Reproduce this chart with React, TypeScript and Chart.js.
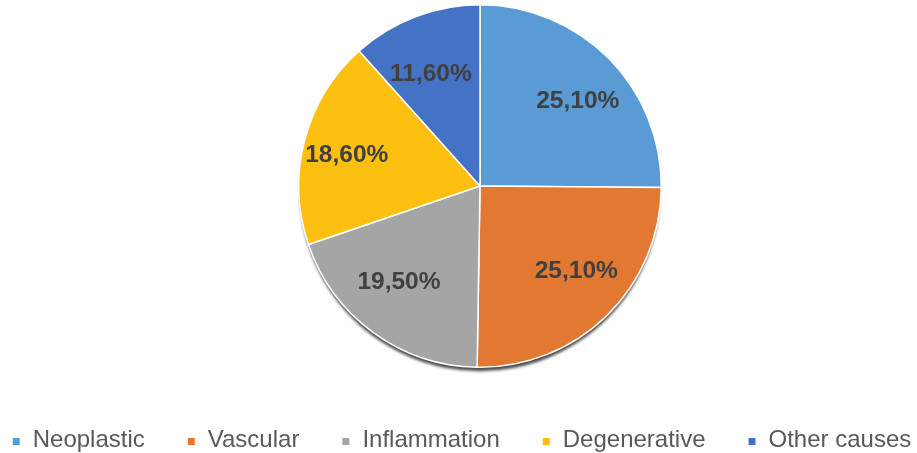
import React, { useEffect, useRef } from "react";
import { Chart, registerables } from "chart.js";

Chart.register(...registerables);

const categories = ["Neoplastic", "Vascular", "Inflammation", "Degenerative", "Other causes"];
const percentValues = [25.1, 25.1, 19.5, 18.6, 11.6];
const sliceColors = ["#5B9BD5", "#E27932", "#A5A5A5", "#FDC010", "#4472C4"];

const fmt = (v: number) => v.toFixed(2).replace(".", ",") + "%";

const shadowPlugin = {
  id: "pieShadow",
  beforeDatasetsDraw(chart: any) {
    const meta = chart.getDatasetMeta(0);
    const arc = meta.data[0];
    if (!arc) return;
    const { x, y, outerRadius } = arc.getProps(["x", "y", "outerRadius"], true);
    const ctx = chart.ctx;
    ctx.save();
    ctx.shadowColor = "rgba(0,0,0,0.7)";
    ctx.shadowBlur = 3;
    ctx.shadowOffsetX = 0;
    ctx.shadowOffsetY = 5;
    ctx.beginPath();
    ctx.arc(x, y, outerRadius - 1, 0, Math.PI * 2);
    ctx.fillStyle = "#777777";
    ctx.fill();
    ctx.restore();
  },
};

const labelPlugin = {
  id: "sliceLabels",
  afterDatasetsDraw(chart: any) {
    const meta = chart.getDatasetMeta(0);
    const ctx = chart.ctx;
    ctx.save();
    ctx.font = "bold 24.5px 'Liberation Sans', Arial, sans-serif";
    ctx.fillStyle = "#404040";
    ctx.textAlign = "center";
    ctx.textBaseline = "middle";
    meta.data.forEach((arc: any, i: number) => {
      const p = arc.getProps(["x", "y", "startAngle", "endAngle", "outerRadius"], true);
      const mid = (p.startAngle + p.endAngle) / 2;
      const dx = p.outerRadius * 0.76;
      const dy = p.outerRadius * 0.66;
      ctx.fillText(fmt(percentValues[i]), p.x + Math.cos(mid) * dx, p.y + Math.sin(mid) * dy);
    });
    ctx.restore();
  },
};

const legendPlugin = {
  id: "bottomLegend",
  afterDraw(chart: any) {
    const ctx = chart.ctx;
    ctx.save();
    ctx.font = "24px 'Liberation Sans', Arial, sans-serif";
    const box = 7;
    const gap = 13;
    const spacing = 43;
    const widths = categories.map((c) => ctx.measureText(c).width);
    const total =
      widths.reduce((a, w) => a + box + gap + w, 0) + spacing * (categories.length - 1);
    let x = 462 - total / 2;
    const baseline = 447;
    categories.forEach((c, i) => {
      ctx.fillStyle = sliceColors[i];
      ctx.fillRect(x, 438, box, box);
      ctx.fillStyle = "#595959";
      ctx.textAlign = "left";
      ctx.textBaseline = "alphabetic";
      ctx.fillText(c, x + box + gap, baseline);
      x += box + gap + widths[i] + spacing;
    });
    ctx.restore();
  },
};

export default function App() {
  const canvasRef = useRef<HTMLCanvasElement | null>(null);

  useEffect(() => {
    if (!canvasRef.current) return;
    const chart = new Chart(canvasRef.current, {
      type: "pie",
      data: {
        labels: categories,
        datasets: [
          {
            data: percentValues,
            backgroundColor: sliceColors,
            borderColor: "#FFFFFF",
            borderWidth: 1.5,
          },
        ],
      },
      options: {
        responsive: false,
        animation: false,
        devicePixelRatio: 1,
        layout: { padding: { left: 298, right: 255, top: 4, bottom: 85 } },
        plugins: {
          legend: { display: false },
          tooltip: { enabled: false },
        },
      },
      plugins: [shadowPlugin, labelPlugin, legendPlugin],
    });
    return () => chart.destroy();
  }, []);

  return (
    <div style={{ position: "absolute", left: 0, top: 0, width: 917, height: 453, background: "#fff" }}>
      <canvas ref={canvasRef} width={917} height={453} />
    </div>
  );
}
